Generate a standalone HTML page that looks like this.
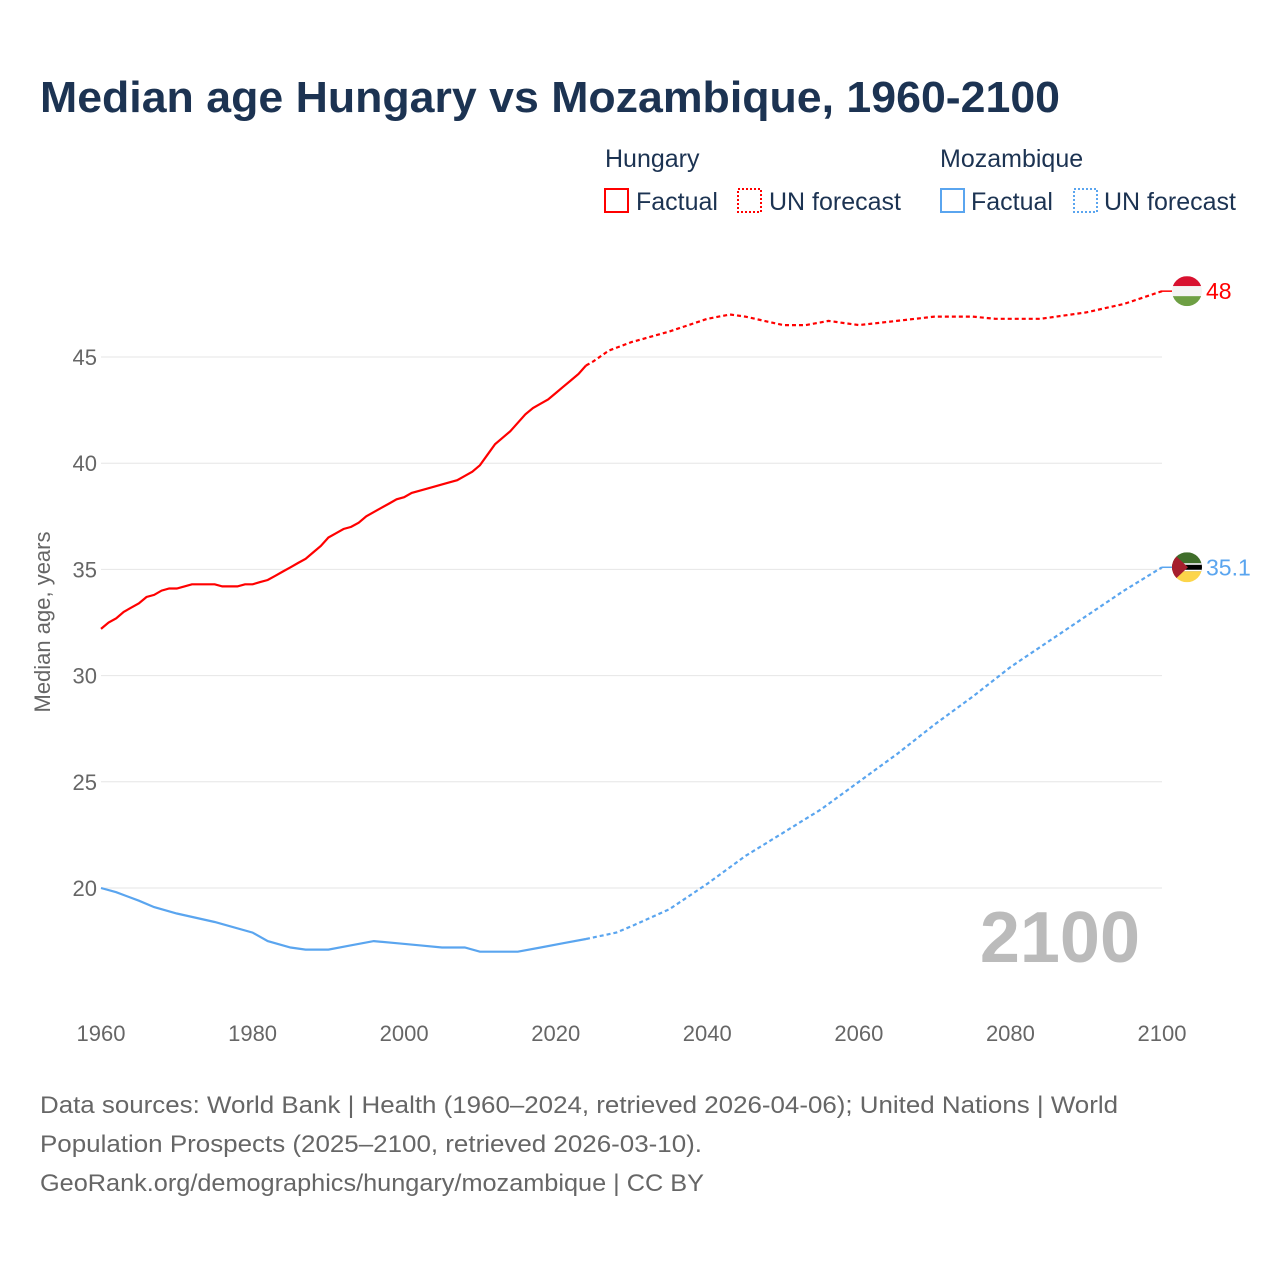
<!DOCTYPE html>
<html><head><meta charset="utf-8">
<style>
html,body{margin:0;padding:0;background:#fff;}
body{width:1280px;height:1280px;position:relative;overflow:hidden;font-family:"Liberation Sans",sans-serif;}
svg{position:absolute;left:0;top:0;}
</style></head>
<body>
<svg id="chart" width="1280" height="1280" viewBox="0 0 1280 1280">
<text x="40" y="112" font-size="44" font-weight="bold" fill="#1c3352" textLength="1020" lengthAdjust="spacingAndGlyphs">Median age Hungary vs Mozambique, 1960-2100</text>
<g font-size="25" fill="#1c3352">
<text x="605" y="167">Hungary</text>
<rect x="605" y="189" width="23" height="23" fill="none" stroke="#f00" stroke-width="2"/>
<text x="636" y="210">Factual</text>
<rect x="738" y="189" width="23" height="23" fill="none" stroke="#f00" stroke-width="2" stroke-dasharray="2,2"/>
<text x="769" y="210">UN forecast</text>
<text x="940" y="167">Mozambique</text>
<rect x="941" y="189" width="23" height="23" fill="none" stroke="#5aa5ef" stroke-width="2"/>
<text x="971" y="210">Factual</text>
<rect x="1074" y="189" width="23" height="23" fill="none" stroke="#5aa5ef" stroke-width="2" stroke-dasharray="2,2"/>
<text x="1104" y="210">UN forecast</text>
</g>
<text transform="translate(50,622) rotate(-90)" text-anchor="middle" font-size="22" fill="#666">Median age, years</text>
<text x="1140" y="962" text-anchor="end" font-size="72" font-weight="bold" fill="#bbb">2100</text>
<g id="grid"></g><g id="series"></g>
<g font-size="24" fill="#666">
<text x="40" y="1113" textLength="1078" lengthAdjust="spacingAndGlyphs">Data sources: World Bank | Health (1960–2024, retrieved 2026-04-06); United Nations | World</text>
<text x="40" y="1152" textLength="662" lengthAdjust="spacingAndGlyphs">Population Prospects (2025–2100, retrieved 2026-03-10).</text>
<text x="40" y="1191" textLength="664" lengthAdjust="spacingAndGlyphs">GeoRank.org/demographics/hungary/mozambique | CC BY</text>
</g>
</svg>
<script>
const yTicks=[20,25,30,35,40,45];
const xTicks=[1960,1980,2000,2020,2040,2060,2080,2100];
const huFactYears=[1960,1961,1962,1963,1964,1965,1966,1967,1968,1969,1970,1971,1972,1973,1974,1975,1976,1977,1978,1979,1980,1981,1982,1983,1984,1985,1986,1987,1988,1989,1990,1991,1992,1993,1994,1995,1996,1997,1998,1999,2000,2001,2002,2003,2004,2005,2006,2007,2008,2009,2010,2011,2012,2013,2014,2015,2016,2017,2018,2019,2020,2021,2022,2023,2024];
const huFactVals=[32.2,32.5,32.7,33.0,33.2,33.4,33.7,33.8,34.0,34.1,34.1,34.2,34.3,34.3,34.3,34.3,34.2,34.2,34.2,34.3,34.3,34.4,34.5,34.7,34.9,35.1,35.3,35.5,35.8,36.1,36.5,36.7,36.9,37.0,37.2,37.5,37.7,37.9,38.1,38.3,38.4,38.6,38.7,38.8,38.9,39.0,39.1,39.2,39.4,39.6,39.9,40.4,40.9,41.2,41.5,41.9,42.3,42.6,42.8,43.0,43.3,43.6,43.9,44.2,44.6];
const huFcYears=[2024,2025,2027,2030,2035,2040,2043,2045,2050,2053,2056,2060,2065,2070,2075,2078,2084,2090,2095,2100];
const huFcVals=[44.6,44.8,45.3,45.7,46.2,46.8,47.0,46.9,46.5,46.5,46.7,46.5,46.7,46.9,46.9,46.8,46.8,47.1,47.5,48.1];
const mzFactYears=[1960,1962,1965,1967,1970,1975,1980,1982,1985,1987,1990,1993,1996,1999,2002,2005,2008,2010,2015,2018,2021,2024];
const mzFactVals=[20.0,19.8,19.4,19.1,18.8,18.4,17.9,17.5,17.2,17.1,17.1,17.3,17.5,17.4,17.3,17.2,17.2,17.0,17.0,17.2,17.4,17.6];
const mzFcYears=[2024,2028,2030,2035,2040,2045,2050,2055,2060,2065,2070,2075,2080,2085,2090,2095,2100];
const mzFcVals=[17.6,17.9,18.2,19.0,20.2,21.5,22.6,23.7,25.0,26.3,27.7,29.0,30.4,31.6,32.8,34.0,35.1];
const huLabel="48", mzLabel="35.1";

const X=y=>101+(y-1960)*(1061/140);
const Y=v=>357+(45-v)*21.24;
const NS="http://www.w3.org/2000/svg";
const mk=(t,a,p)=>{const e=document.createElementNS(NS,t);for(const k in a)e.setAttribute(k,a[k]);p.appendChild(e);return e;};
const grid=document.getElementById('grid'), ser=document.getElementById('series');
yTicks.forEach(v=>{
 const l=mk('line',{x1:101,x2:1162,y1:Y(v),y2:Y(v),stroke:'#e6e6e6','stroke-width':1},grid);
 
 
 const t=mk('text',{x:97,y:Y(v)+8,'text-anchor':'end','font-size':22,fill:'#666'},grid);
 t.textContent=v;
 
 
});
xTicks.forEach(y=>{
 const t=mk('text',{x:X(y),y:1041,'text-anchor':'middle','font-size':22,fill:'#666'},grid);
 t.textContent=y;
 
 
});
function line(xs,vs,col,dash,name){
 const d=xs.map((x,i)=>(i?'L':'M')+X(x).toFixed(1)+','+Y(vs[i]).toFixed(1)).join(' ');
 const p=mk('path',{d:d,fill:'none',stroke:col,'stroke-width':2.2,'stroke-dasharray':dash||'none'},ser);
 
 
}
line(huFactYears,huFactVals,'#f00',null,'hungary-factual-line');
line(huFcYears,huFcVals,'#f00','4,3','hungary-forecast-line');
line(mzFactYears,mzFactVals,'#5aa5ef',null,'mozambique-factual-line');
line(mzFcYears,mzFcVals,'#5aa5ef','4,3','mozambique-forecast-line');
const hy=Y(huFcVals[huFcVals.length-1]), my=Y(mzFcVals[mzFcVals.length-1]);
mk('line',{x1:1162,x2:1172,y1:hy,y2:hy,stroke:'#f00','stroke-width':1.5},ser);
mk('line',{x1:1162,x2:1172,y1:my,y2:my,stroke:'#5aa5ef','stroke-width':1.5},ser);
const defs=mk('defs',{},ser);
mk('circle',{cx:1187,cy:hy,r:15},mk('clipPath',{id:'chu'},defs));
mk('circle',{cx:1187,cy:my,r:15},mk('clipPath',{id:'cmz'},defs));
const fh=mk('g',{'clip-path':'url(#chu)'},ser);


mk('rect',{x:1172,y:hy-15,width:30,height:10,fill:'#d8112f'},fh);
mk('rect',{x:1172,y:hy-5,width:30,height:10,fill:'#f4f4f4'},fh);
mk('rect',{x:1172,y:hy+5,width:30,height:10,fill:'#6e9f44'},fh);
const fm=mk('g',{'clip-path':'url(#cmz)'},ser);


mk('rect',{x:1172,y:my-15,width:30,height:11,fill:'#3f6d2a'},fm);
mk('rect',{x:1172,y:my-4,width:30,height:8,fill:'#000'},fm);
mk('rect',{x:1172,y:my-4,width:30,height:1.5,fill:'#fff'},fm);
mk('rect',{x:1172,y:my+2.5,width:30,height:1.5,fill:'#fff'},fm);
mk('rect',{x:1172,y:my+4,width:30,height:11,fill:'#fcd54a'},fm);
mk('polygon',{points:`1172,${my-15} 1188,${my} 1172,${my+15}`,fill:'#a61e2d'},fm);
const t1=mk('text',{x:1206,y:hy+8,'font-size':23,fill:'#f00'},ser);
t1.textContent=huLabel;


const t2=mk('text',{x:1206,y:my+8,'font-size':23,fill:'#5aa5ef'},ser);
t2.textContent=mzLabel;


</script>
</body></html>
